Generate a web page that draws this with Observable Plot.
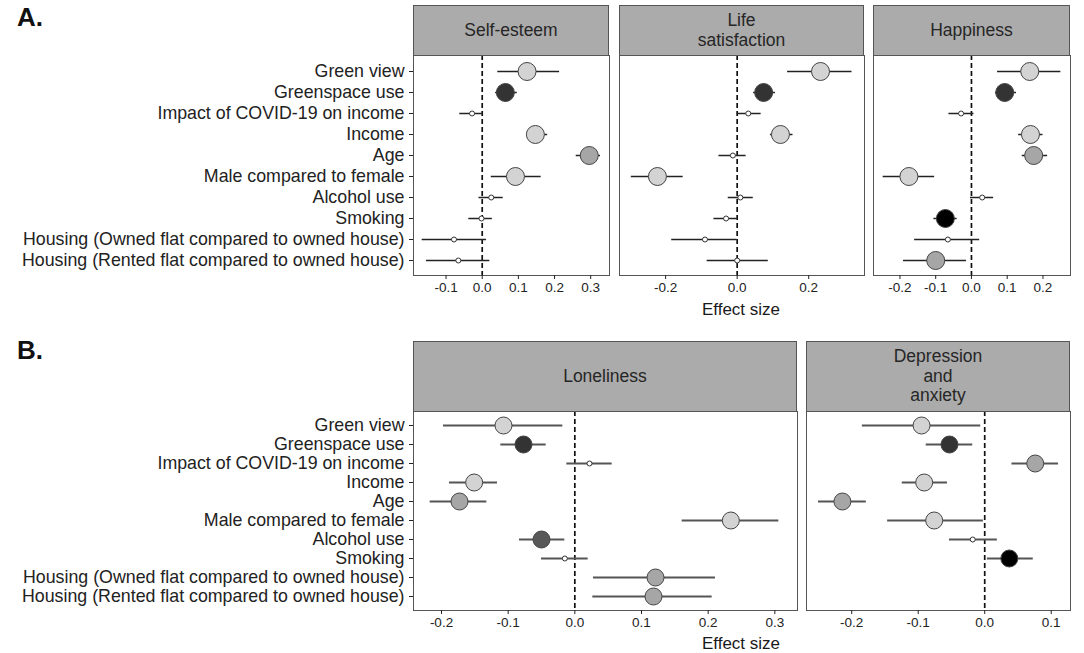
<!DOCTYPE html>
<html><head><meta charset="utf-8">
<script src="https://cdn.jsdelivr.net/npm/d3@7"></script>
<script src="https://cdn.jsdelivr.net/npm/@observablehq/plot@0.6"></script>
<style>
body{margin:0;background:#fff;font-family:"Liberation Sans",Arial,sans-serif;}
#root{position:relative;width:1084px;height:653px;overflow:hidden;background:#fff;}
.strip{position:absolute;background:#ababab;border:1px solid #555;box-sizing:border-box;display:flex;align-items:center;justify-content:center;text-align:center;color:#262626;font-size:17.5px;line-height:19.5px;}
.lab{position:absolute;font-weight:bold;font-size:26px;line-height:26px;color:#111;}
.xt{position:absolute;font-size:17px;line-height:20px;color:#1a1a1a;transform:translateX(-50%);white-space:nowrap;}
.plot{position:absolute;}
</style></head><body><div id="root"></div>
<script>
// ---- data ----
const variables = [
  "Green view", "Greenspace use", "Impact of COVID-19 on income", "Income", "Age",
  "Male compared to female", "Alcohol use", "Smoking",
  "Housing (Owned flat compared to owned house)", "Housing (Rented flat compared to owned house)"
];
// [estimate, lower CI, upper CI]
const selfEsteem = [[0.124,0.043,0.214],[0.064,0.037,0.097],[-0.028,-0.062,0.0],[0.147,0.124,0.181],[0.296,0.26,0.327],[0.092,0.025,0.163],[0.025,-0.009,0.058],[-0.002,-0.037,0.028],[-0.078,-0.166,0.012],[-0.066,-0.154,0.021]];
const lifeSatisfaction = [[0.233,0.141,0.321],[0.074,0.046,0.107],[0.031,0.0,0.067],[0.121,0.093,0.156],[-0.012,-0.051,0.025],[-0.223,-0.296,-0.151],[0.009,-0.025,0.045],[-0.031,-0.065,0.0],[-0.090,-0.183,0.0],[0.0,-0.084,0.087]];
const happiness = [[0.163,0.073,0.25],[0.093,0.067,0.126],[-0.029,-0.063,0.007],[0.165,0.132,0.2],[0.174,0.142,0.213],[-0.175,-0.247,-0.103],[0.03,-0.003,0.062],[-0.073,-0.105,-0.04],[-0.066,-0.159,0.023],[-0.1,-0.19,-0.014]];
const loneliness = [[-0.107,-0.197,-0.018],[-0.077,-0.111,-0.043],[0.022,-0.012,0.056],[-0.151,-0.188,-0.116],[-0.173,-0.217,-0.132],[0.234,0.161,0.306],[-0.05,-0.083,-0.015],[-0.015,-0.05,0.02],[0.121,0.028,0.211],[0.118,0.027,0.206]];
const depressionAnxiety = [[-0.095,-0.184,-0.006],[-0.053,-0.088,-0.018],[0.076,0.041,0.111],[-0.091,-0.124,-0.056],[-0.214,-0.25,-0.178],[-0.076,-0.146,-0.002],[-0.018,-0.053,0.019],[0.037,0.004,0.073],null,null];
// shade group of each point (0 = not significant)
const selfEsteemGroup = [1,4,0,1,2,1,0,0,0,0];
const lifeSatisfactionGroup = [1,4,0,1,0,1,0,0,0,0];
const happinessGroup = [1,4,0,1,2,1,0,5,0,2];
const lonelinessGroup = [1,4,0,1,2,1,3,0,2,2];
const depressionAnxietyGroup = [1,4,2,1,2,1,0,5,null,null];
const ticksSelfEsteem = [-0.1,0,0.1,0.2,0.3];
const ticksLife = [-0.2,0,0.2];
const ticksHappiness = [-0.2,-0.1,0,0.1,0.2];
const ticksLoneliness = [-0.2,-0.1,0,0.1,0.2,0.3];
const ticksDepression = [-0.2,-0.1,0,0.1];

// ---- drawing ----
const root = document.getElementById("root");
function rows(vals, groups){
  return variables.map((v,i)=> vals[i] ? {variable:v, est:vals[i][0], lo:vals[i][1], hi:vals[i][2], group:groups[i]} : null).filter(d=>d);
}
function addDiv(cls, html, css){
  const d = document.createElement("div"); d.className = cls; d.innerHTML = html;
  Object.assign(d.style, css); root.appendChild(d); return d;
}
function facet({vals, groups, domain, ticks, left, top, panelW, panelH, yAxis, lineColor, lineW, bigR}){
  const data = rows(vals, groups);
  const mL = yAxis ? left : 16, mR = 16, mB = 34;
  const plot = Plot.plot({
    width: mL + panelW + mR, height: panelH + mB,
    marginLeft: mL, marginRight: mR, marginTop: 0, marginBottom: mB,
    style: {fontFamily: "'Liberation Sans', Arial, sans-serif", fontSize: "13.5px", background: "transparent", color: "#222", overflow: "visible"},
    x: {domain, ticks},
    y: {type: "point", domain: variables, padding: 0.6, axis: yAxis ? undefined : null},
    color: {type: "ordinal", domain: [0,1,2,3,4,5], range: ["#ffffff","#d3d3d3","#a6a6a6","#585858","#333333","#000000"]},
    marks: [
      Plot.frame({stroke: "#555"}),
      Plot.ruleX([0], {stroke: "#111", strokeWidth: 1.7, strokeDasharray: "5,3"}),
      Plot.ruleY(data, {y: "variable", x1: "lo", x2: "hi", stroke: lineColor, strokeWidth: lineW}),
      Plot.dot(data.filter(d=>d.group>0), {x: "est", y: "variable", r: bigR, fill: "group", stroke: "#444", strokeWidth: 1}),
      Plot.dot(data.filter(d=>d.group===0), {x: "est", y: "variable", r: 2.5, fill: "group", stroke: "#333", strokeWidth: 1}),
      Plot.axisX({ticks, tickFormat: d=>d.toFixed(1), tickSize: 4, tickPadding: 3, fontSize: 13.5, label: null}),
      yAxis ? Plot.axisY({tickSize: 4, tickPadding: 5, fontSize: 17.8, label: null}) : null
    ]
  });
  plot.classList.add("plot");
  plot.style.left = (left - mL) + "px";
  plot.style.top = top + "px";
  root.appendChild(plot);
}

// Panel A
const aTop = 55, aH = 220;
facet({vals: selfEsteem, groups: selfEsteemGroup, domain: [-0.19,0.352], ticks: ticksSelfEsteem, left: 413, top: aTop, panelW: 196, panelH: aH, yAxis: true, lineColor: "#222", lineW: 1.5, bigR: 9});
facet({vals: lifeSatisfaction, groups: lifeSatisfactionGroup, domain: [-0.329,0.356], ticks: ticksLife, left: 619, top: aTop, panelW: 245, panelH: aH, yAxis: false, lineColor: "#222", lineW: 1.5, bigR: 9});
facet({vals: happiness, groups: happinessGroup, domain: [-0.274,0.277], ticks: ticksHappiness, left: 873, top: aTop, panelW: 197, panelH: aH, yAxis: false, lineColor: "#222", lineW: 1.5, bigR: 9});
addDiv("strip", "Self-esteem", {left: "413px", top: "5px", width: "196px", height: "51px"});
addDiv("strip", "Life<br>satisfaction", {left: "619px", top: "5px", width: "245px", height: "51px"});
addDiv("strip", "Happiness", {left: "873px", top: "5px", width: "197px", height: "51px"});
addDiv("lab", "A.", {left: "17px", top: "4px"});
addDiv("xt", "Effect size", {left: "741px", top: "300px"});

// Panel B
const bTop = 411, bH = 199;
facet({vals: loneliness, groups: lonelinessGroup, domain: [-0.242,0.334], ticks: ticksLoneliness, left: 413, top: bTop, panelW: 384, panelH: bH, yAxis: true, lineColor: "#555", lineW: 2, bigR: 8.5});
facet({vals: depressionAnxiety, groups: depressionAnxietyGroup, domain: [-0.268,0.129], ticks: ticksDepression, left: 806, top: bTop, panelW: 264, panelH: bH, yAxis: false, lineColor: "#555", lineW: 2, bigR: 8.5});
addDiv("strip", "Loneliness", {left: "413px", top: "341px", width: "384px", height: "71px"});
addDiv("strip", "Depression<br>and<br>anxiety", {left: "806px", top: "341px", width: "264px", height: "71px"});
addDiv("lab", "B.", {left: "17px", top: "337px"});
addDiv("xt", "Effect size", {left: "741px", top: "634px"});
</script>
</body></html>
